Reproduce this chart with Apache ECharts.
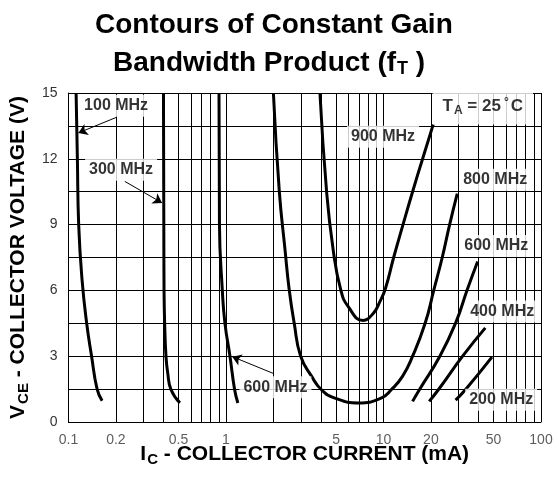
<!DOCTYPE html>
<html>
<head>
<meta charset="UTF-8">
<title>Contours of Constant Gain Bandwidth Product</title>
<script src="https://cdn.jsdelivr.net/npm/echarts@6/dist/echarts.min.js"></script>
</head>
<body style="margin:0;background:#fff">
<div id="main" style="width:559px;height:481px"></div>
<script type="text/javascript">
// tick labels and grid
var xTickLabels = [0.1, 0.2, 0.5, 1, 5, 10, 20, 50, 100];
var yTickLabels = [0, 3, 6, 9, 12, 15];
var xGridLines = [0.2, 0.3, 0.4, 0.5, 0.6, 0.7, 0.8, 0.9,
                  2, 3, 4, 5, 6, 7, 8, 9,
                  20, 30, 40, 50, 60, 70, 80, 90];

// contours: [Ic (mA), Vce (V)]
var f100 = [[0.1118, 15], [0.1139, 12], [0.1161, 9], [0.1219, 6.5], [0.1305, 4.5], [0.1402, 3], [0.152, 1.5], [0.1635, 0.97]];
var f300 = [[0.401, 15], [0.402, 12], [0.403, 9], [0.4044, 6], [0.408, 4.5], [0.416, 3], [0.4265, 2.25], [0.448, 1.47], [0.51, 0.87]];
var f600a = [[0.903, 15], [0.909, 9], [0.948, 6], [0.985, 4.5], [1.06, 3], [1.135, 1.47], [1.19, 0.87]];
var f600b = [[15.3, 0.94], [16.9, 1.47], [22.8, 3], [28.7, 4.51], [34, 6.03], [39.6, 7.32]];
var f400 = [[19.5, 0.94], [22.3, 1.47], [31.8, 3], [44.3, 4.29]];
var f200 = [[28.7, 1.0], [33.1, 1.47], [48.8, 2.96]];
var f800 = [[2.0, 15], [2.18, 10.53], [2.37, 7.86], [2.52, 6.03], [2.71, 4.51], [2.98, 3], [3.5, 2.08], [4.04, 1.47],
            [4.91, 1.09], [6.95, 0.87], [9.66, 1.09], [11.2, 1.47], [13.2, 2.08], [15.3, 3], [18.4, 4.51],
            [20.9, 6.03], [23.6, 7.5], [26.3, 9.0], [29.4, 10.41]];
var f900 = [[3.95, 15], [4.35, 10.53], [4.79, 7.86], [5.35, 6.03], [5.96, 5.27], [7.41, 4.63], [8.6, 4.95],
            [9.5, 5.5], [10.3, 6.1], [11.6, 7.5], [13.3, 9.0], [15.3, 10.5], [17.8, 12.05], [20.7, 13.57]];

// annotations
var noteText = ['100 MHz', '300 MHz', '600 MHz', '600 MHz', '800 MHz', '900 MHz', '400 MHz', '200 MHz', 'T{sub|A} = 25{deg|°}C'];
var notePos = [[0.2006, 14.42], [0.2158, 11.5], [2.06, 1.59], [52.0, 8.03], [51.2, 11.05], [9.94, 13.01], [56.7, 5.04], [55.9, 1.02], [42.7, 14.38]];
var arrowFrom = [[0.2015, 13.89], [0.2277, 10.97], [2.02, 2.2]];
var arrowTo = [[0.1155, 13.18], [0.393, 9.99], [1.096, 2.98]];

var FONT = '"Liberation Sans", Arial, Helvetica, sans-serif';

var myChart = echarts.init(document.getElementById('main'));

function curve(name, data) {
    return {
        name: name,
        type: 'line',
        data: data,
        smooth: 0.5,
        symbol: 'none',
        z: 5,
        silent: true,
        lineStyle: {color: '#000', width: 3}
    };
}

var notes = [];
for (var i = 0; i < noteText.length; i++) {
    var item = {name: noteText[i], value: notePos[i]};
    if (i === noteText.length - 1) {
        item.label = {padding: [8, 10], fontSize: 17};
    }
    notes.push(item);
}

var arrows = [];
for (var j = 0; j < arrowFrom.length; j++) {
    arrows.push([{coord: arrowFrom[j]}, {coord: arrowTo[j]}]);
}

var option = {
    backgroundColor: '#FFFFFF',
    animation: false,
    title: [{
        text: 'Contours of Constant Gain',
        left: 95,
        top: 11,
        padding: 0,
        textStyle: {fontSize: 28, fontWeight: 'bold', color: '#000', fontFamily: FONT}
    }, {
        text: 'Bandwidth Product (f{sub|T} )',
        left: 113,
        top: 48,
        padding: 0,
        textStyle: {
            fontSize: 28, fontWeight: 'bold', color: '#000', fontFamily: FONT,
            rich: {sub: {fontSize: 18, fontWeight: 'bold', fontFamily: FONT, color: '#000', padding: [12, 0, 0, 1]}}
        }
    }],
    grid: {left: 65, right: 18, top: 93, bottom: 59},
    xAxis: {
        type: 'log',
        logBase: 10,
        min: 0.1,
        max: 100,
        name: 'I{sub|C} - COLLECTOR CURRENT (mA)',
        nameLocation: 'middle',
        nameGap: 20,
        nameTextStyle: {
            fontSize: 21, fontWeight: 'bold', color: '#000', fontFamily: FONT,
            rich: {sub: {fontSize: 15, fontWeight: 'bold', color: '#000', fontFamily: FONT, padding: [10, 0, 0, 1]}}
        },
        axisLine: {show: true, lineStyle: {color: '#000', width: 1}},
        axisTick: {show: false},
        axisLabel: {show: false},
        splitLine: {show: true, lineStyle: {color: '#000', width: 1}}
    },
    yAxis: {
        type: 'value',
        min: 0,
        max: 15,
        interval: 1.5,
        name: 'V{sub|CE} - COLLECTOR VOLTAGE (V)',
        nameLocation: 'middle',
        nameRotate: 90,
        nameGap: 23,
        nameTextStyle: {
            fontSize: 21, fontWeight: 'bold', color: '#000', fontFamily: FONT,
            rich: {sub: {fontSize: 15, fontWeight: 'bold', color: '#000', fontFamily: FONT, padding: [10, 0, 0, 1]}}
        },
        axisLine: {show: true, lineStyle: {color: '#000', width: 1}},
        axisTick: {show: false},
        axisLabel: {
            fontSize: 14, color: '#333', margin: 11, fontFamily: FONT,
            formatter: function (v) { return yTickLabels.indexOf(v) >= 0 ? String(v) : ''; }
        },
        splitLine: {show: true, lineStyle: {color: '#000', width: 1}}
    },
    series: [
        {
            name: 'ticks',
            type: 'scatter',
            z: 1,
            silent: true,
            clip: false,
            symbolSize: 0,
            data: xTickLabels.map(function (v) { return [v, 0]; }),
            label: {
                show: true, position: 'bottom', distance: 11,
                fontSize: 14, color: '#333', fontFamily: FONT,
                formatter: function (p) { return String(p.value[0]); }
            },
            markLine: {
                silent: true,
                symbol: 'none',
                label: {show: false},
                lineStyle: {color: '#000', width: 1, type: 'solid'},
                data: xGridLines.map(function (v) { return {xAxis: v}; })
            }
        },
        curve('100 MHz', f100),
        curve('300 MHz', f300),
        curve('600 MHz a', f600a),
        curve('600 MHz b', f600b),
        curve('400 MHz', f400),
        curve('200 MHz', f200),
        curve('800 MHz', f800),
        curve('900 MHz', f900),
        {
            name: 'notes',
            type: 'scatter',
            z: 10,
            silent: true,
            clip: false,
            symbolSize: 0,
            data: notes,
            label: {
                show: true, position: 'inside', formatter: '{b}',
                backgroundColor: '#fff', padding: [3, 4],
                fontSize: 16, fontWeight: 'bold', color: '#000', fontFamily: FONT,
                rich: {
                    sub: {fontSize: 12, fontWeight: 'bold', color: '#000', fontFamily: FONT, padding: [8, 0, 0, 1]},
                    deg: {fontSize: 12, fontWeight: 'bold', color: '#000', fontFamily: FONT, padding: [0, 2, 8, 3]}
                }
            },
            markLine: {
                silent: true,
                symbol: ['none', 'arrow'],
                symbolSize: 9,
                label: {show: false},
                lineStyle: {color: '#000', width: 1, type: 'solid'},
                data: arrows
            }
        }
    ]
};

myChart.setOption(option);
</script>
</body>
</html>
